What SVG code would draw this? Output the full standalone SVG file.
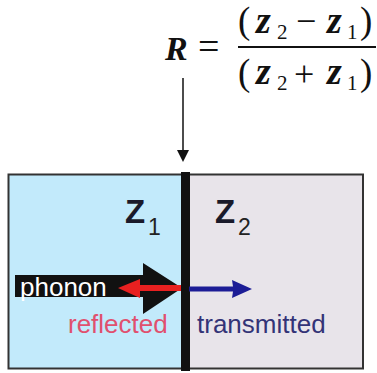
<svg xmlns="http://www.w3.org/2000/svg" width="377" height="373" viewBox="0 0 377 373">
<style>
.ser{font-family:"Liberation Serif","Times New Roman",serif;fill:#111}
.bi{font-weight:bold;font-style:italic}
.sans{font-family:"Liberation Sans",Arial,sans-serif}
.zz{font-size:33px;font-weight:bold;fill:#1a1a2a}
.sub{font-size:23px;fill:#222}
.lbl{font-size:26px}
.par{font-size:37px}
.z{font-size:38px}
.d{font-size:21px}
</style>
<rect width="377" height="373" fill="#ffffff"/>
<g id="formula">
<text class="ser bi" x="165" y="60" font-size="34">R</text>
<text class="ser" x="198" y="59" font-size="38">=</text>
<line x1="238" y1="47" x2="376" y2="47" stroke="#111" stroke-width="2"/>
<text class="ser par" x="238" y="33">(</text>
<text class="ser bi z" x="256" y="33">z</text>
<text class="ser d" x="277" y="39">2</text>
<text class="ser" x="296" y="33" font-size="36">−</text>
<text class="ser bi z" x="327" y="33">z</text>
<text class="ser d" x="347" y="39">1</text>
<text class="ser par" x="360" y="33">)</text>
<text class="ser par" x="238" y="85">(</text>
<text class="ser bi z" x="256" y="84">z</text>
<text class="ser d" x="277" y="90">2</text>
<text class="ser" x="294" y="86" font-size="36">+</text>
<text class="ser bi z" x="327" y="84">z</text>
<text class="ser d" x="347" y="90">1</text>
<text class="ser par" x="360" y="85">)</text>
</g>
<g id="medium1">
<rect x="9" y="175" width="173" height="193" fill="#c2eafb"/>
<text class="sans zz" x="125" y="223">Z</text>
<text class="sans sub" x="148" y="235">1</text>
</g>
<g id="medium2">
<rect x="189" y="175" width="174" height="193" fill="#e8e4ea"/>
<text class="sans zz" x="215" y="223">Z</text>
<text class="sans sub" x="238" y="235">2</text>
</g>
<rect x="8.5" y="174.5" width="354.5" height="194" fill="none" stroke="#333" stroke-width="2"/>
<g id="interface">
<rect x="181" y="172" width="9" height="199" fill="#111"/>
</g>
<g id="connectors">
<line x1="183" y1="78" x2="183" y2="152" stroke="#111" stroke-width="1.5"/>
<polygon points="177,150 189,150 183,162" fill="#111"/>
<polygon points="15,275 143,275 143,263 182,288 143,314 143,297 15,297" fill="#111"/>
<polygon points="181,285 140,285 140,279 118,288 140,298 140,291 181,291" fill="#e82020"/>
<polygon points="189,286.5 233,286.5 232,280 252,289 232,298 233,291.5 189,291.5" fill="#1c1c96"/>
</g>
<g id="labels">
<text class="sans lbl" x="20" y="296" fill="#ffffff">phonon</text>
<text class="sans lbl" x="68" y="333" fill="#e0506e">reflected</text>
<text class="sans lbl" x="197" y="333" fill="#333377">transmitted</text>
</g>
</svg>
